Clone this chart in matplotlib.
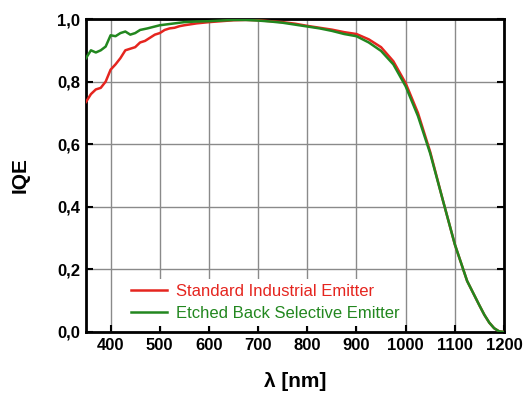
import matplotlib
matplotlib.use("Agg")
import matplotlib.pyplot as plt
from matplotlib.ticker import FuncFormatter

wl_std = [350, 360, 370, 380, 390, 400, 410, 420, 430, 440, 450, 460, 470, 480, 490, 500,
          510, 520, 530, 540, 550, 575, 600, 625, 650, 675, 700, 725, 750, 775, 800, 825,
          850, 875, 900, 925, 950, 975, 1000, 1025, 1050, 1075, 1100, 1125, 1150, 1160,
          1170, 1180, 1190, 1200]
iqe_std = [0.735, 0.76, 0.775, 0.78, 0.80, 0.838, 0.855, 0.875, 0.90, 0.905, 0.91, 0.925, 0.93, 0.94,
           0.95, 0.955, 0.965, 0.97, 0.972, 0.977, 0.98, 0.986, 0.99, 0.993, 0.996, 0.997, 0.996,
           0.993, 0.99, 0.985, 0.978, 0.972, 0.966, 0.958, 0.952, 0.935, 0.91, 0.865, 0.795, 0.70,
           0.575, 0.425, 0.28, 0.163, 0.085, 0.055, 0.03, 0.012, 0.002, 0.0]

wl_etch = [350, 360, 370, 380, 390, 400, 410, 420, 430, 440, 450, 460, 475, 500, 525, 550,
           575, 600, 625, 650, 675, 700, 725, 750, 775, 800, 825, 850, 875, 900, 925, 950,
           975, 1000, 1025, 1050, 1075, 1100, 1125, 1150, 1160, 1170, 1180, 1190, 1200]
iqe_etch = [0.875, 0.90, 0.893, 0.90, 0.912, 0.948, 0.945, 0.955, 0.96, 0.95, 0.955, 0.965, 0.97,
            0.98, 0.985, 0.99, 0.992, 0.993, 0.995, 0.997, 0.997, 0.995, 0.992, 0.988, 0.982,
            0.976, 0.97, 0.962, 0.952, 0.945, 0.925, 0.898, 0.855, 0.785, 0.69, 0.57, 0.425,
            0.28, 0.163, 0.085, 0.055, 0.03, 0.012, 0.002, 0.0]

x_ticks = [400, 500, 600, 700, 800, 900, 1000, 1100, 1200]
y_ticks = [0.0, 0.2, 0.4, 0.6, 0.8, 1.0]

plt.rcParams['font.family'] = ['Liberation Sans', 'DejaVu Sans']

fig = plt.figure(figsize=(5.24, 3.94), dpi=100)
ax = fig.add_axes([86/524, 1 - 332/394, (504-86)/524, (332-19)/394])

red = '#e5251f'
green = '#22871f'
ax.plot(wl_std, iqe_std, color=red, lw=1.8, label='Standard Industrial Emitter', zorder=3)
ax.plot(wl_etch, iqe_etch, color=green, lw=1.8, label='Etched Back Selective Emitter', zorder=4)

ax.set_xlim(350, 1200)
ax.set_ylim(0, 1.0)
ax.set_xticks(x_ticks)
ax.set_yticks(y_ticks)
ax.yaxis.set_major_formatter(FuncFormatter(lambda v, p: f"{v:.1f}".replace('.', ',')))
ax.grid(True, color='#8a8a8a', lw=1.0)
ax.set_axisbelow(True)
for s in ax.spines.values():
    s.set_linewidth(2)
ax.tick_params(direction='in', length=5, width=1.5, top=False, right=True,
               labelsize=12, pad=4)
for lab in ax.get_xticklabels() + ax.get_yticklabels():
    lab.set_fontweight('bold')

ax.set_xlabel('λ [nm]', fontsize=15, fontweight='bold', labelpad=14)
ax.set_ylabel('IQE', fontsize=15, fontweight='bold', labelpad=20)

leg = ax.legend(loc='lower left', bbox_to_anchor=(0.075, -0.008), frameon=True, fontsize=12,
                handlelength=2.2, handletextpad=0.5, borderpad=0.3, labelspacing=0.45,
                edgecolor='none', facecolor='white', framealpha=1)
leg.set_zorder(5)
for t, c in zip(leg.get_texts(), [red, green]):
    t.set_color(c)

fig.savefig('out.png', dpi=100)
